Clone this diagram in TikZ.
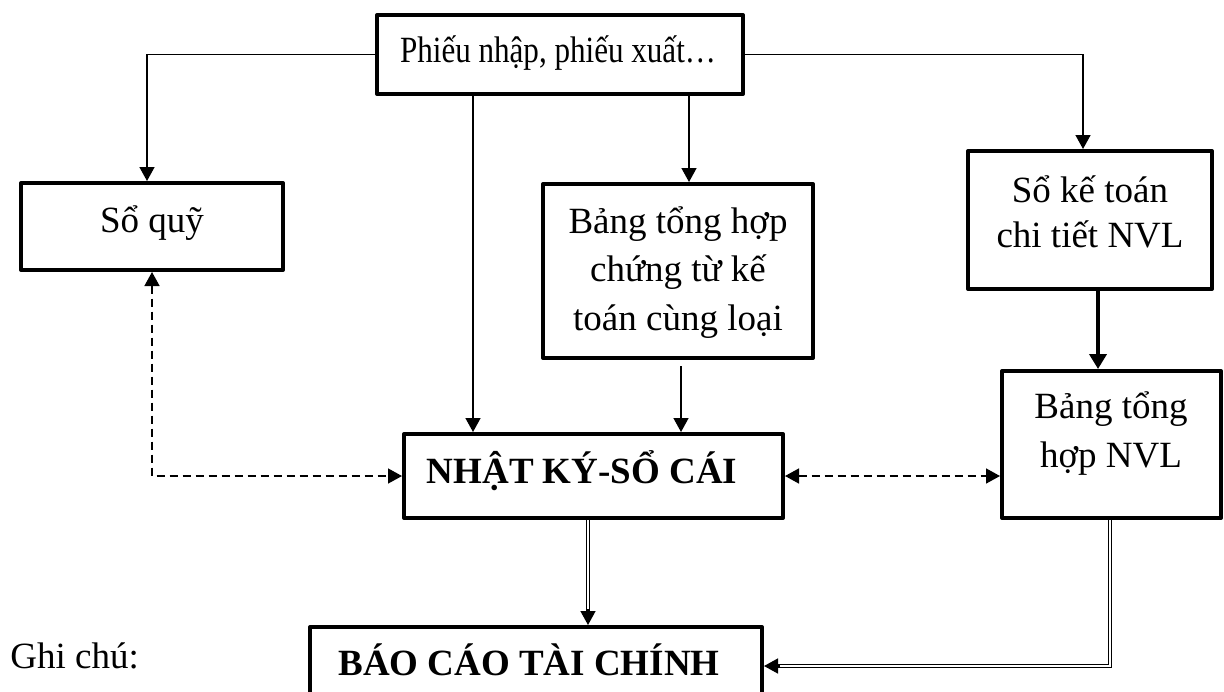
\documentclass[tikz,border=0pt]{standalone}
\usepackage{fontspec}
\setmainfont{Liberation Serif}
\usetikzlibrary{arrows.meta,calc}
\tikzset{
  box/.style={draw, line width=2pt, rectangle, inner sep=0pt, line join=round},
  txt/.style={font=\fontsize{18.5pt}{24pt}\selectfont, inner sep=0pt, align=center, anchor=base},
  btxt/.style={txt, font=\fontsize{18.5pt}{24pt}\selectfont\bfseries},
  arr/.style={line width=0.75pt, -{Triangle[length=7pt,width=7.5pt]}},
  darr/.style={line width=0.75pt, dash pattern=on 4pt off 2.5pt, {Triangle[length=7pt,width=7.5pt]}-{Triangle[length=7pt,width=7.5pt]}},
  tarr/.style={line width=2pt, -{Triangle[length=7.5pt,width=8.5pt]}},
  dbl/.style={double, double distance=1.2pt, line width=0.5pt},
}
\begin{document}
\begin{tikzpicture}[x=0.5pt,y=-0.5pt]
\useasboundingbox (0,0) rectangle (1224,691);
% boxes
\node[box, minimum width=183pt, minimum height=39.5pt] (top) at (560,54.5) {};
\node[box, minimum width=131pt, minimum height=43.5pt] (soquy) at (152,226.5) {};
\node[box, minimum width=135pt, minimum height=87pt] (bthct) at (678,271) {};
\node[box, minimum width=122pt, minimum height=69pt] (skt) at (1090,220) {};
\node[box, minimum width=109.5pt, minimum height=73.5pt] (bthnvl) at (1111.5,444.5) {};
\node[box, minimum width=189.5pt, minimum height=42pt] (nksc) at (593.5,476) {};
\node[box, minimum width=226pt, minimum height=39pt] (bctc) at (536,666) {};
% texts (anchor=base is the baseline of the last line)
\node[txt] (topT) at (558,62) {\scalebox{0.84}[1]{Phiếu nhập, phiếu xuất…}};
\node[txt] (soquyT) at (152,232) {Sổ quỹ};
\node[txt, font=\fontsize{18.5pt}{24.25pt}\selectfont] (bthctT) at (678,330) {Bảng tổng hợp\\chứng từ kế\\toán cùng loại};
\node[txt, font=\fontsize{18.5pt}{22.5pt}\selectfont] (sktT) at (1090,247) {Sổ kế toán\\chi tiết NVL};
\node[txt, font=\fontsize{18.5pt}{24.5pt}\selectfont] (bthnvlT) at (1111,467) {Bảng tổng\\hợp NVL};
\node[btxt] (nkscT) at (582,483) {NHẬT KÝ-SỔ CÁI};
\node[btxt] (bctcT) at (529,675) {BÁO CÁO TÀI CHÍNH};
\node[txt, anchor=base west] (ghichu) at (10,668) {Ghi chú:};
% helper x positions
\coordinate (x473) at (473,0);
\coordinate (x689) at (689,0);
\coordinate (x681) at (681,0);
\coordinate (x1098) at (1098,0);
\coordinate (x588) at (588,0);
\coordinate (x1110) at (1110,0);
% connectors
\draw[arr] (top.west) -| ($(soquy.north)+(-5,0)$);
\draw[arr] (top.east) -| ($(skt.north)+(-7,0)$);
\draw[arr] (top.south -| x473) -- (nksc.north -| x473);
\draw[arr] (top.south -| x689) -- (bthct.north -| x689);
\draw[arr, shorten <=3pt] (bthct.south -| x681) -- (nksc.north -| x681);
\draw[darr] (soquy.south) |- (nksc.west);
\draw[darr] (nksc.east) -- (nksc.east -| bthnvl.west);
\draw[tarr] (skt.south -| x1098) -- (bthnvl.north -| x1098);
\draw[dbl] (nksc.south -| x588) -- ($(bctc.north -| x588)+(0,-13)$);
\draw[arr] ($(bctc.north -| x588)+(0,-16)$) -- (bctc.north -| x588);
\draw[dbl] (bthnvl.south -| x1110) |- ($(bctc.east)+(13,0)$);
\draw[arr] ($(bctc.east)+(16,0)$) -- (bctc.east);
\end{tikzpicture}
\end{document}
